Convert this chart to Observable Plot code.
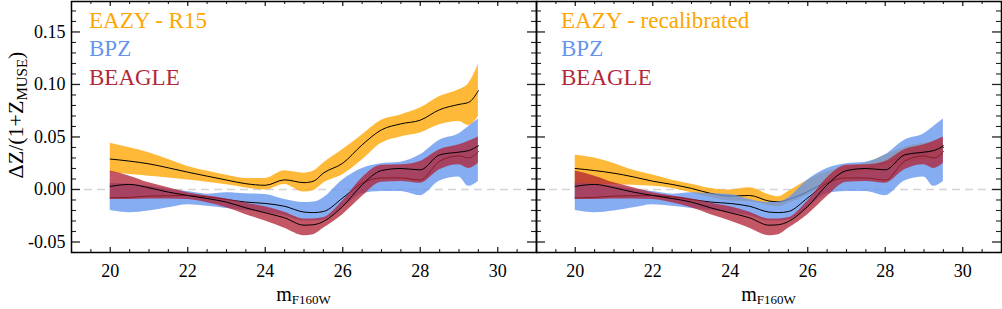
<!DOCTYPE html>
<html>
<head>
<meta charset="utf-8">
<script src="https://cdn.jsdelivr.net/npm/d3@7"></script>
<script src="https://cdn.jsdelivr.net/npm/@observablehq/plot@0.6"></script>
<style>
  html, body { margin: 0; padding: 0; background: white; }
  #wrap { position: relative; width: 1002px; height: 309px; overflow: hidden; }
  #wrap svg { position: absolute; top: 0; overflow: visible; }
</style>
</head>
<body>
<div id="wrap"></div>
<script>
// ---- data ----
const mag = [20, 20.5, 21, 21.5, 22, 22.5, 23, 23.5, 24, 24.5, 25, 25.25, 25.5, 26, 26.5, 27, 27.5, 28, 28.5, 29, 29.25, 29.5];

const r15Med = [0.029, 0.027, 0.0244, 0.0206, 0.0165, 0.0127, 0.009, 0.0055, 0.004, 0.0092, 0.0065, 0.008, 0.0156, 0.025, 0.0425, 0.0568, 0.0625, 0.066, 0.076, 0.081, 0.083, 0.094];
const r15Lo  = [0.0165, 0.0143, 0.0127, 0.011, 0.009, 0.007, 0.0045, 0.0015, -0.0005, 0.0048, -0.0025, -0.001, 0.006, 0.014, 0.028, 0.044, 0.050, 0.0537, 0.0616, 0.0648, 0.061, 0.0695];
const r15Hi  = [0.044, 0.0397, 0.035, 0.0286, 0.022, 0.0175, 0.0135, 0.0105, 0.0105, 0.0178, 0.0155, 0.0175, 0.025, 0.038, 0.052, 0.066, 0.071, 0.0775, 0.0886, 0.095, 0.101, 0.119];

const recMed = [0.020, 0.018, 0.0155, 0.012, 0.0079, 0.0048, 0.001, -0.0038, -0.0063, -0.0057, -0.011, -0.0117, -0.0095, -0.002, 0.008, 0.017, 0.020, 0.025, 0.032, 0.035, 0.037, 0.040];
const recLo  = [0.004, 0.0045, 0.0045, 0.004, 0.003, 0.001, -0.003, -0.0076, -0.011, -0.0117, -0.015, -0.0165, -0.013, -0.0054, 0.004, 0.012, 0.0152, 0.0184, 0.025, 0.028, 0.029, 0.031];
const recHi  = [0.0327, 0.030, 0.0248, 0.0184, 0.0137, 0.0089, 0.0051, 0.001, -0.0005, 0.0016, -0.005, -0.007, -0.002, 0.0089, 0.0168, 0.022, 0.025, 0.0327, 0.040, 0.044, 0.045, 0.047];

const bpzMed = [-0.008, -0.0075, -0.0063, -0.006, -0.0057, -0.007, -0.0095, -0.012, -0.0133, -0.016, -0.0215, -0.022, -0.021, -0.008, 0.006, 0.011, 0.011, 0.009, 0.027, 0.032, 0.030, 0.036];
const bpzLo  = [-0.020, -0.0222, -0.0206, -0.0175, -0.0145, -0.016, -0.018, -0.020, -0.022, -0.025, -0.030, -0.030, -0.029, -0.018, -0.004, -0.002, -0.002, -0.006, 0.008, 0.012, 0.003, 0.0076];
const bpzHi  = [0.006, 0.005, 0.003, 0.000, -0.002, -0.0045, -0.003, -0.004, -0.0048, -0.0095, -0.0125, -0.012, -0.008, 0.009, 0.020, 0.0245, 0.026, 0.033, 0.047, 0.053, 0.060, 0.067];

const beaMed = [0.003, 0.0048, 0.0016, -0.0025, -0.0057, -0.0086, -0.012, -0.0175, -0.0222, -0.027, -0.034, -0.0335, -0.0305, -0.016, 0.0044, 0.018, 0.020, 0.0187, 0.033, 0.0356, 0.037, 0.0416];
const beaLo  = [-0.0095, -0.0095, -0.009, -0.009, -0.0095, -0.0127, -0.0175, -0.024, -0.030, -0.037, -0.044, -0.043, -0.037, -0.024, -0.0067, 0.007, 0.0076, 0.006, 0.0187, 0.0235, 0.020, 0.025];
const beaHi  = [0.0175, 0.0127, 0.0063, 0.0016, -0.003, -0.0063, -0.009, -0.013, -0.0165, -0.0216, -0.028, -0.028, -0.027, -0.011, 0.011, 0.023, 0.0235, 0.0267, 0.0378, 0.0425, 0.046, 0.050];

const xTicks = [20, 22, 24, 26, 28, 30];
const yTicks = [-0.05, 0.00, 0.05, 0.10, 0.15];
const legendLeft = ["EAZY - R15", "BPZ", "BEAGLE"];
const legendRight = ["EAZY - recalibrated", "BPZ", "BEAGLE"];

// ---- styling ----
const FONT = "Liberation Serif";
const C_ORANGE = "#ffa500", C_BLUE = "#6495ed", C_RED = "#b22234";
const TXT = [C_ORANGE, C_BLUE, "#b3283a"];
const H = 309, MT = 1, MB = 57;
const FRAME_W = 465, FRAME_H = H - MT - MB;

const rows = (med, lo, hi) => mag.map((m, i) => ({m, med: med[i], lo: lo[i], hi: hi[i]}));
const yMinor = d3.range(-0.06, 0.1795, 0.01).map(v => +v.toFixed(2)).filter(v => !yTicks.some(t => Math.abs(t - v) < 1e-9));
const xMinor = d3.range(19, 31.01, 0.5).filter(v => !xTicks.includes(v));

function bandMarks(data, color, op) {
  return [
    Plot.areaY(data, {x: "m", y1: "lo", y2: "hi", fill: color, fillOpacity: op, curve: "monotone-x"}),
    Plot.line(data, {x: "m", y: "med", stroke: "black", strokeWidth: 1, curve: "monotone-x"})
  ];
}

function panel({eazy, legend, left, mL, mR, yLabels}) {
  const tickMarks = [
    Plot.ruleY(yTicks, {stroke: "#222", strokeWidth: 1.3, insetRight: FRAME_W - 9}),
    Plot.ruleY(yTicks, {stroke: "#222", strokeWidth: 1.3, insetLeft: FRAME_W - 9}),
    Plot.ruleY(yMinor, {stroke: "#222", strokeWidth: 1.1, insetRight: FRAME_W - 5}),
    Plot.ruleY(yMinor, {stroke: "#222", strokeWidth: 1.1, insetLeft: FRAME_W - 5}),
    Plot.ruleX(xTicks, {stroke: "#222", strokeWidth: 1.3, insetTop: FRAME_H - 5}),
    Plot.ruleX(xTicks, {stroke: "#222", strokeWidth: 1.3, insetBottom: FRAME_H - 5}),
    Plot.ruleX(xMinor, {stroke: "#222", strokeWidth: 1.1, insetTop: FRAME_H - 3}),
    Plot.ruleX(xMinor, {stroke: "#222", strokeWidth: 1.1, insetBottom: FRAME_H - 3})
  ];
  const legendMarks = legend.map((t, i) => Plot.text([t], {
    text: d => d, frameAnchor: "top-left", textAnchor: "start", lineAnchor: "bottom",
    dx: left ? 17.5 : 24.5, dy: 26.7 + i * 28.2, fill: TXT[i], fontSize: 23, fontFamily: FONT
  }));
  const marks = [
    Plot.ruleY([0], {stroke: "#d4d4d4", strokeWidth: 1.6, strokeDasharray: "8,5"}),
    ...bandMarks(eazy, C_ORANGE, 0.78),
    ...bandMarks(rows(bpzMed, bpzLo, bpzHi), C_BLUE, 0.78),
    ...bandMarks(rows(beaMed, beaLo, beaHi), C_RED, 0.76),
    ...tickMarks,
    Plot.frame({stroke: "black", strokeWidth: 1.5}),
    Plot.axisX(xTicks, {tickSize: 0, tickPadding: 12, fontSize: 18, fontFamily: FONT, label: null, tickFormat: d => String(d)}),
    ...legendMarks
  ];
  if (yLabels) marks.push(Plot.axisY(yTicks, {anchor: "left", tickSize: 0, tickPadding: 6, fontSize: 18, fontFamily: FONT, label: null, tickFormat: d => d.toFixed(2)}));
  return Plot.plot({
    width: mL + FRAME_W + mR, height: H,
    marginLeft: mL, marginRight: mR, marginTop: MT, marginBottom: MB,
    style: {background: "transparent", color: "black", fontFamily: FONT, overflow: "visible"},
    x: {domain: [19, 31], axis: null},
    y: {domain: [-0.06, 0.179], axis: null},
    marks
  });
}

const wrap = document.getElementById("wrap");

const leftSvg = panel({eazy: rows(r15Med, r15Lo, r15Hi), legend: legendLeft, left: true, mL: 71, mR: 1, yLabels: true});
leftSvg.style.left = "0px";
const rightSvg = panel({eazy: rows(recMed, recLo, recHi), legend: legendRight, left: false, mL: 1, mR: 1, yLabels: false});
rightSvg.style.left = "535px";
wrap.appendChild(leftSvg);
wrap.appendChild(rightSvg);

// x-axis titles with subscripts
function xTitle(svg, cx) {
  const t = d3.select(svg).append("text")
    .attr("x", cx).attr("y", 301).attr("text-anchor", "middle")
    .attr("font-family", FONT).attr("font-size", 20).attr("fill", "black");
  t.append("tspan").text("m");
  t.append("tspan").attr("font-size", 13).attr("dy", 3).text("F160W");
}
xTitle(leftSvg, 71 + FRAME_W / 2);
xTitle(rightSvg, 1 + FRAME_W / 2);

// y-axis title
const yt = d3.select(leftSvg).append("text")
  .attr("transform", "translate(23,115) rotate(-90)")
  .attr("text-anchor", "middle")
  .attr("font-family", FONT).attr("font-size", 22).attr("fill", "black");
yt.append("tspan").text("ΔZ/(1+Z");
yt.append("tspan").attr("font-size", 15).attr("dy", 4).text("MUSE");
yt.append("tspan").attr("dy", -4).text(")");
</script>
</body>
</html>
